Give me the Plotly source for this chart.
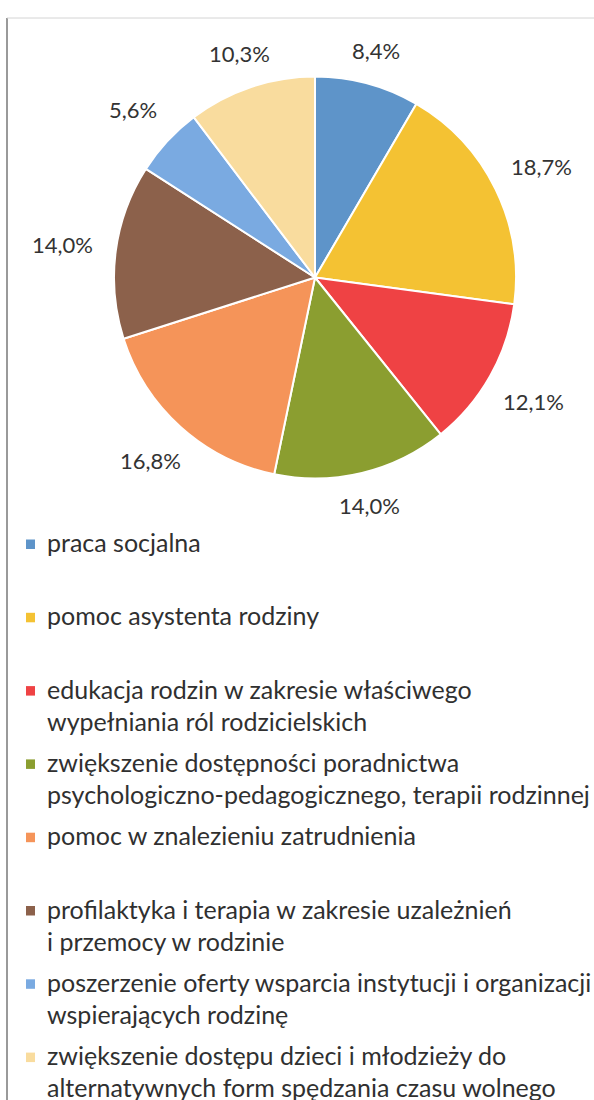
import math
import plotly.graph_objects as go

# ---- data ----
categories = [
    "praca socjalna",
    "pomoc asystenta rodziny",
    "edukacja rodzin w zakresie właściwego<br>wypełniania ról rodzicielskich",
    "zwiększenie dostępności poradnictwa<br>psychologiczno-pedagogicznego, terapii rodzinnej",
    "pomoc w znalezieniu zatrudnienia",
    "profilaktyka i terapia w zakresie uzależnień<br>i przemocy w rodzinie",
    "poszerzenie oferty wsparcia instytucji i organizacji<br>wspierających rodzinę",
    "zwiększenie dostępu dzieci i młodzieży do<br>alternatywnych form spędzania czasu wolnego",
]
values = [8.4, 18.7, 12.1, 14.0, 16.8, 14.0, 5.6, 10.3]
value_labels = ["8,4%", "18,7%", "12,1%", "14,0%", "16,8%", "14,0%", "5,6%", "10,3%"]
colors = ["#5e94c9", "#f4c233", "#ef4244", "#8b9e30", "#f59459",
          "#8c614b", "#7aaae1", "#f9dc9e"]

W, H = 594, 1100
FONT = "Lato"
cx, cy, R = 315, 277.5, 201


def px(x):
    return x / W


def py(y):
    return 1 - y / H


fig = go.Figure()
fig.add_trace(go.Pie(
    labels=[c.replace("<br>", " ") for c in categories],
    values=values,
    sort=False,
    direction="clockwise",
    rotation=0,
    textinfo="none",
    hoverinfo="label+percent",
    marker=dict(colors=colors, line=dict(color="white", width=2)),
    domain=dict(x=[px(cx - R), px(cx + R)], y=[py(cy + R), py(cy - R)]),
    showlegend=False,
))

annotations = []
shapes = []
# percentage labels placed around the pie from the slice mid-angles
total = sum(values)
cum = 0
for v, lab in zip(values, value_labels):
    mid = (cum + v / 2) / total * 2 * math.pi
    cum += v
    d = R + 27 + 27 * abs(math.sin(mid))
    lx = cx + d * math.sin(mid)
    ly = cy - d * math.cos(mid)
    annotations.append(dict(
        x=px(lx), y=py(ly), xref="paper", yref="paper", text=lab,
        showarrow=False, xanchor="center", yanchor="middle",
        font=dict(family=FONT, size=22, color="#333333"),
    ))

# legend
first_y, step, line_h = 542, 73.3, 32
for i, (cat, col) in enumerate(zip(categories, colors)):
    y0 = first_y + i * step
    for j, line in enumerate(cat.split("<br>")):
        annotations.append(dict(
            x=px(45), y=py(y0 + j * line_h), xref="paper", yref="paper",
            text=line, showarrow=False, xanchor="left", yanchor="middle",
            font=dict(family=FONT, size=25, color="#303030"),
        ))
    shapes.append(dict(
        type="rect", xref="paper", yref="paper",
        x0=px(26), x1=px(35), y0=py(y0 + 7), y1=py(y0 - 2.5),
        fillcolor=col, line=dict(width=0),
    ))

# frame lines
shapes.append(dict(type="line", xref="paper", yref="paper",
                   x0=px(7), x1=px(7), y0=py(18), y1=0,
                   line=dict(color="#9a9a9a", width=2)))
shapes.append(dict(type="line", xref="paper", yref="paper",
                   x0=px(7), x1=1, y0=py(18), y1=py(18),
                   line=dict(color="#d4d4d4", width=1)))

fig.update_layout(
    width=W, height=H,
    margin=dict(l=0, r=0, t=0, b=0),
    paper_bgcolor="white", plot_bgcolor="white",
    annotations=annotations, shapes=shapes,
)
fig.write_html("out.html", config={"displayModeBar": False},
               post_script="document.body.style.margin='0';document.body.style.padding='0';")
